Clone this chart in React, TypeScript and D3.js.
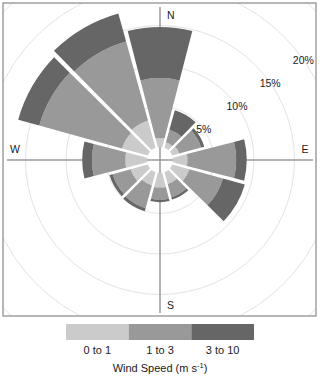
import React from 'react';
import * as d3 from 'd3';

// wind direction sectors (degrees, clockwise from north)
const directions = [0, 30, 60, 90, 120, 150, 180, 210, 240, 270, 300, 330];
const speedBands = ['0 to 1', '1 to 3', '3 to 10'];
// frequency (%) per band
const band0to1 = [1.1, 0.7, 0.9, 1.8, 2.2, 1.5, 1.8, 1.7, 2.2, 2.7, 3.3, 3.5];
const band1to3 = [7.4, 1.6, 2.8, 6.0, 4.3, 1.7, 1.5, 2.9, 2.3, 4.1, 10.6, 10.1];
const band3to10 = [6.3, 2.5, 0.4, 1.3, 2.8, 0.3, 0.3, 0.4, 0.4, 1.2, 2.7, 3.6];
const gridTicks = [5, 10, 15, 20, 25];
const tickLabels = ['5%', '10%', '15%', '20%'];
const compassLabels = ['N', 'E', 'S', 'W'];

const bandColors = ['#cbcbcb', '#999999', '#666666'];
const font = '"Liberation Sans", Arial, sans-serif';

const W = 320;
const H = 377;
const cx = 160;
const cy = 160;
const panel = { x: 3, y: 3, size: 313 };

const r = d3.scaleLinear().domain([0, 20]).range([13, 175]);
const toRad = (deg: number) => (deg * Math.PI) / 180;

const arc = d3.arc<any>().padAngle(0.02).padRadius(100);

export default function App() {
  const bands = [band0to1, band1to3, band3to10];

  const petals: JSX.Element[] = [];
  directions.forEach((dir, i) => {
    let cum = 0;
    bands.forEach((band, b) => {
      const inner = cum;
      cum += band[i];
      const d = arc({
        innerRadius: r(inner),
        outerRadius: r(cum),
        startAngle: toRad(dir - 14.5),
        endAngle: toRad(dir + 14.5),
      });
      petals.push(<path key={`${dir}-${b}`} d={d || ''} fill={bandColors[b]} />);
    });
  });

  const labelAngle = toRad(55);
  const axisLen = 153;

  const legendX = d3.scaleBand<string>().domain(speedBands).range([66, 254]);

  const compassPos: Record<string, [number, number]> = {
    N: [cx + 7, cy - 141.5],
    E: [cx + 141.5, cy - 7.5],
    S: [cx + 7, cy + 148.5],
    W: [cx - 150, cy - 7.5],
  };

  return (
    <svg
      width={W}
      height={H}
      style={{ position: 'absolute', left: 0, top: 0, background: '#fff' }}
      fontFamily={font}
    >
      <defs>
        <clipPath id="panel-clip">
          <rect x={panel.x} y={panel.y} width={panel.size} height={panel.size} />
        </clipPath>
      </defs>
      <g clipPath="url(#panel-clip)">
        {gridTicks.map((t) => (
          <circle key={t} cx={cx} cy={cy} r={r(t)} fill="none" stroke="#e3e3e3" strokeWidth={1} />
        ))}
      </g>
      <line x1={cx} x2={cx} y1={cy - axisLen} y2={cy + axisLen} stroke="#9a9a9a" strokeWidth={1.5} />
      <line x1={cx - axisLen} x2={cx + axisLen} y1={cy} y2={cy} stroke="#9a9a9a" strokeWidth={1.5} />
      <g transform={`translate(${cx},${cy})`}>{petals}</g>
      {tickLabels.map((lab, i) => (
        <text
          key={lab}
          x={cx + r(gridTicks[i]) * Math.sin(labelAngle)}
          y={cy - r(gridTicks[i]) * Math.cos(labelAngle)}
          textAnchor="middle"
          dominantBaseline="central"
          fontSize={10.5}
          fill="#1a1a1a"
        >
          {lab}
        </text>
      ))}
      {compassLabels.map((c) => (
        <text key={c} x={compassPos[c][0]} y={compassPos[c][1]} fontSize={10.5} fill="#1a1a1a">
          {c}
        </text>
      ))}
      <rect
        x={panel.x}
        y={panel.y}
        width={panel.size}
        height={panel.size}
        fill="none"
        stroke="#a0a0a0"
        strokeWidth={1.5}
      />
      {speedBands.map((s, i) => (
        <g key={s}>
          <rect x={legendX(s)} y={324} width={legendX.bandwidth()} height={16} fill={bandColors[i]} />
          <text
            x={(legendX(s) || 0) + legendX.bandwidth() / 2}
            y={353.5}
            textAnchor="middle"
            fontSize={11}
            fill="#1a1a1a"
          >
            {s}
          </text>
        </g>
      ))}
      <text x={160} y={371.5} textAnchor="middle" fontSize={11} fill="#1a1a1a">
        Wind Speed (m s
        <tspan dy={-4} fontSize={7.5}>-1</tspan>
        <tspan dy={4}>)</tspan>
      </text>
    </svg>
  );
}
